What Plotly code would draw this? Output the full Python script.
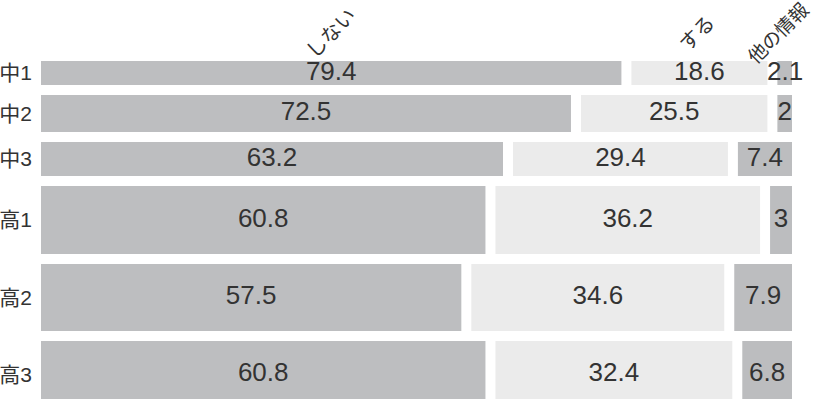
import plotly.graph_objects as go

# ---- data ----
grades = ["中1", "中2", "中3", "高1", "高2", "高3"]
series_names = ["しない", "する", "他の情報"]
shinai = [79.4, 72.5, 63.2, 60.8, 57.5, 60.8]
suru = [18.6, 25.5, 29.4, 36.2, 34.6, 32.4]
other = [2.1, 2, 7.4, 3, 7.9, 6.8]

# ---- layout / style constants ----
W, H = 817, 399
M_L, M_R = 41, 25
PLOT_W = W - M_L - M_R
GAP_PX = 10
ROW_TOP = 61
ROW_THICK = [24, 37, 34, 68, 67, 67]
ROW_GAP = 10
COLORS = ["#bdbec0", "#ebebeb", "#bcbdbf"]
TEXT_COLOR = "#333333"
FONT = "Liberation Sans, Arial, Noto Sans CJK JP"
HEADER_XSHIFT = [0, -2, -7]
HEADER_SIZE = [20, 20, 19]

# x range so that gaps between segments are GAP_PX wide
x_range = 100 / (1 - 2 * GAP_PX / PLOT_W)
gap_u = GAP_PX * x_range / PLOT_W

# row centres in a pixel-like y unit
centers = []
pos = ROW_TOP
for t in ROW_THICK:
    centers.append(pos + t / 2)
    pos += t + ROW_GAP

series = [shinai, suru, other]
bases = []
for i in range(3):
    b = []
    for r in range(len(grades)):
        b.append(sum(series[j][r] for j in range(i)) + i * gap_u)
    bases.append(b)

fig = go.Figure()
for i, (name, vals) in enumerate(zip(series_names, series)):
    fig.add_trace(go.Bar(
        y=centers, x=vals, base=bases[i], orientation="h",
        width=ROW_THICK, name=name,
        marker=dict(color=COLORS[i], line=dict(width=0)),
        hoverinfo="skip",
    ))
# value labels centred in each segment
for i, vals in enumerate(series):
    fig.add_trace(go.Scatter(
        x=[b + v / 2 for b, v in zip(bases[i], vals)], y=centers,
        mode="text", text=[f"{v:g}" for v in vals],
        textposition="middle center", cliponaxis=False,
        textfont=dict(family=FONT, size=26, color=TEXT_COLOR),
        hoverinfo="skip",
    ))

# rotated header labels above the first row's segments
for i, name in enumerate(series_names):
    cx = bases[i][0] + series[i][0] / 2
    fig.add_annotation(
        x=cx, y=ROW_TOP - 28, xref="x", yref="y", text=name,
        showarrow=False, textangle=-45, xanchor="center", yanchor="middle",
        xshift=HEADER_XSHIFT[i],
        font=dict(family=FONT, size=HEADER_SIZE[i], color=TEXT_COLOR),
    )

fig.update_layout(
    width=W, height=H, barmode="overlay", showlegend=False,
    margin=dict(l=M_L, r=M_R, t=0, b=0),
    paper_bgcolor="white", plot_bgcolor="white",
    xaxis=dict(range=[0, x_range], visible=False, fixedrange=True),
    yaxis=dict(range=[H, 0], tickvals=centers, ticktext=grades,
               showgrid=False, zeroline=False, showline=False, ticks="",
               ticklabelstandoff=8, automargin=False,
               tickfont=dict(family=FONT, size=21, color=TEXT_COLOR)),
)

fig.write_html("out.html")
